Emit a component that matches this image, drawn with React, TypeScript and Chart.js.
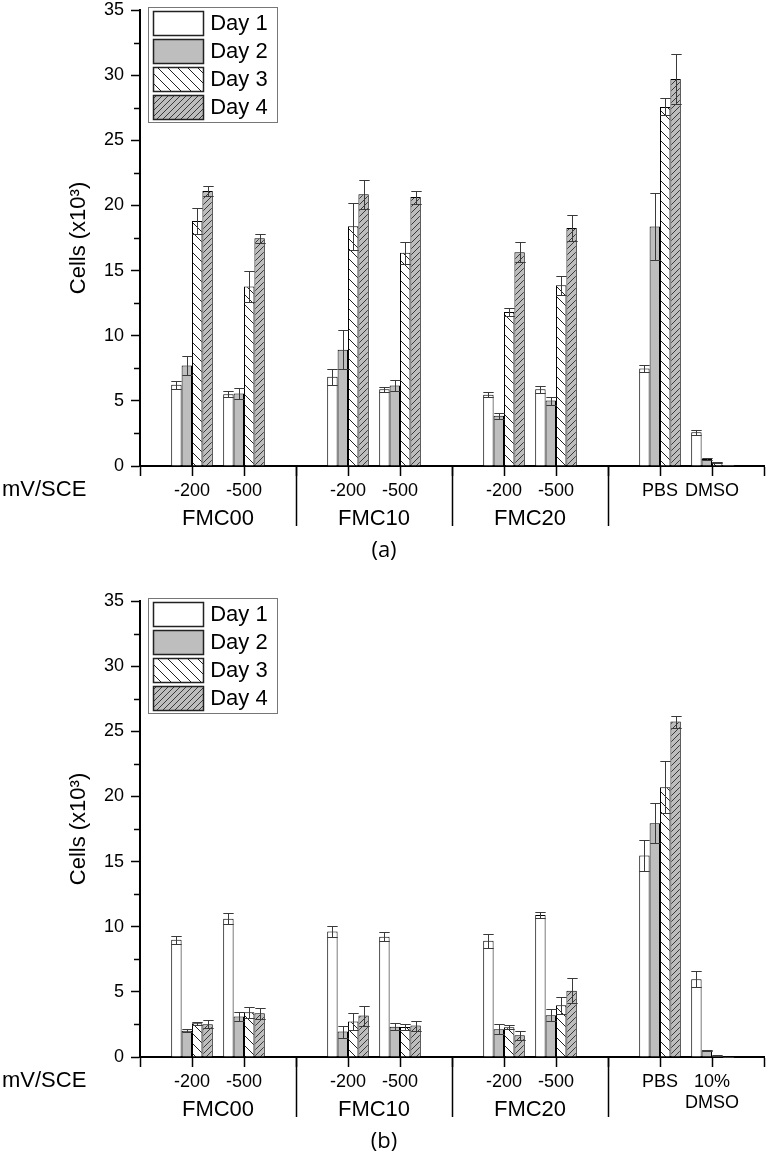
import React, { useEffect, useRef } from 'react';
import { Chart, registerables } from 'chart.js';
Chart.register(...registerables);

const FONT = '"Liberation Sans", Arial, sans-serif';

// x positions (category slots) of the eight conditions; slots 0,3,6,9,12 are empty
const slots = [1, 2, 4, 5, 7, 8, 10, 11];
const groupNames = ['FMC00', 'FMC10', 'FMC20'];
const groupCenters = [1.5, 4.5, 7.5];
const separators = [3, 6, 9];
const dayLabels = ['Day 1', 'Day 2', 'Day 3', 'Day 4'];
const tickLabelsA: (string | string[])[] = ['', '-200', '-500', '', '-200', '-500', '', '-200', '-500', '', 'PBS', 'DMSO', ''];
const tickLabelsB: (string | string[])[] = ['', '-200', '-500', '', '-200', '-500', '', '-200', '-500', '', 'PBS', ['10%', 'DMSO'], ''];
const yTicksMinor = [2.5, 7.5, 12.5, 17.5, 22.5, 27.5, 32.5];

// Panel (a) values: FMC00 -200, -500, FMC10 -200, -500, FMC20 -200, -500, PBS, DMSO
const aDay1 = [6.23, 5.51, 6.85, 5.9, 5.46, 5.9, 7.49, 2.59];
const aDay1Err = [0.3, 0.25, 0.6, 0.2, 0.2, 0.26, 0.25, 0.18];
const aDay2 = [7.72, 5.56, 8.92, 6.18, 3.85, 5.02, 18.38, 0.54];
const aDay2Err = [0.75, 0.4, 1.5, 0.45, 0.25, 0.3, 2.6, 0.05];
const aDay3 = [18.8, 13.77, 18.4, 16.36, 11.82, 13.87, 27.56, 0.28];
const aDay3Err = [1.0, 1.2, 1.8, 0.87, 0.33, 0.72, 0.65, 0.03];
const aDay4 = [21.1, 17.49, 20.85, 20.64, 16.41, 18.26, 29.7, 0.08];
const aDay4Err = [0.4, 0.35, 1.1, 0.5, 0.77, 0.97, 1.9, 0.02];

// Panel (b) values
const bDay1 = [9.0, 10.62, 9.64, 9.23, 8.92, 10.9, 15.46, 5.97];
const bDay1Err = [0.3, 0.4, 0.4, 0.33, 0.54, 0.26, 1.2, 0.6];
const bDay2 = [2.02, 3.1, 1.95, 2.33, 2.13, 3.2, 17.95, 0.51];
const bDay2Err = [0.1, 0.35, 0.46, 0.28, 0.38, 0.46, 1.54, 0.05];
const bDay3 = [2.59, 3.44, 2.72, 2.31, 2.28, 3.97, 20.7, 0.1];
const bDay3Err = [0.13, 0.43, 0.64, 0.23, 0.15, 0.67, 2.0, 0.02];
const bDay4 = [2.51, 3.36, 3.18, 2.41, 1.67, 5.08, 25.75, 0.02];
const bDay4Err = [0.3, 0.43, 0.77, 0.38, 0.36, 0.95, 0.46, 0.01];

const place = (vals: number[]) => {
  const arr: (number | null)[] = Array(13).fill(null);
  slots.forEach((s, i) => { arr[s] = vals[i]; });
  return arr;
};

function makeHatch(bg: string, line: string, size: number, dir: 'back' | 'fwd', lw: number) {
  const c = document.createElement('canvas');
  c.width = size; c.height = size;
  const g = c.getContext('2d')!;
  g.fillStyle = bg; g.fillRect(0, 0, size, size);
  g.strokeStyle = line; g.lineWidth = lw;
  g.beginPath();
  for (let k = -1; k <= 1; k++) {
    if (dir === 'back') { g.moveTo(k * size, 0); g.lineTo(k * size + size, size); }
    else { g.moveTo(k * size, size); g.lineTo(k * size + size, 0); }
  }
  g.stroke();
  return g.createPattern(c, 'repeat')!;
}

const extrasPlugin = {
  id: 'extras',
  afterDatasetsDraw(chart: any) {
    const ctx = chart.ctx;
    const y = chart.scales.y;
    ctx.save();
    ctx.strokeStyle = '#3a3a3a';
    ctx.lineWidth = 1;
    chart.data.datasets.forEach((ds: any, i: number) => {
      const meta = chart.getDatasetMeta(i);
      meta.data.forEach((el: any, j: number) => {
        const v = ds.data[j];
        const e = ds.errors[j];
        if (v == null || e == null) return;
        const x = Math.round(el.x) + 0.5;
        const w = el.width;
        const yt = Math.round(y.getPixelForValue(v + e)) + 0.5;
        const yb = Math.round(y.getPixelForValue(Math.max(0, v - e))) + 0.5;
        ctx.beginPath();
        ctx.moveTo(x, yt); ctx.lineTo(x, yb);
        ctx.moveTo(x - w / 2, yt); ctx.lineTo(x + w / 2, yt);
        ctx.moveTo(x - w / 2, yb); ctx.lineTo(x + w / 2, yb);
        ctx.stroke();
      });
    });
    ctx.restore();
  },
  afterDraw(chart: any, _args: any, opts: any) {
    const ctx = chart.ctx;
    const xs = chart.scales.x;
    const ys = chart.scales.y;
    const area = chart.chartArea;
    const axisY = xs.top;
    ctx.save();
    // minor y ticks
    ctx.strokeStyle = '#000';
    ctx.lineWidth = 1.5;
    ctx.beginPath();
    yTicksMinor.forEach((v) => {
      const py = Math.round(ys.getPixelForValue(v)) + 0.5;
      ctx.moveTo(area.left - 6, py); ctx.lineTo(area.left, py);
    });
    // long group separators
    separators.forEach((s) => {
      const px = Math.round(xs.getPixelForValue(s)) + 0.5;
      ctx.moveTo(px, axisY); ctx.lineTo(px, axisY + 60);
    });
    ctx.stroke();
    // group labels
    ctx.fillStyle = '#000';
    ctx.font = `22px ${FONT}`;
    ctx.textAlign = 'center';
    ctx.textBaseline = 'middle';
    groupNames.forEach((g, i) => {
      ctx.fillText(g, xs.getPixelForValue(groupCenters[i]), axisY + 53);
    });
    ctx.textAlign = 'left';
    ctx.fillText('mV/SCE', 2, axisY + 24);
    // panel tag
    ctx.textAlign = 'center';
    ctx.font = '22px "Open Sans", sans-serif';
    ctx.fillText(opts.tag, 384, axisY + 85);
    // legend
    const L = area.left + 7.5;
    const T = area.top - 3;
    ctx.strokeStyle = '#777';
    ctx.lineWidth = 1;
    ctx.strokeRect(Math.round(L) + 0.5, Math.round(T) + 0.5, 129, 115);
    ctx.font = `22px ${FONT}`;
    ctx.textAlign = 'left';
    chart.data.datasets.forEach((ds: any, i: number) => {
      const sx = Math.round(L + 5);
      const sy = Math.round(T + 4.4 + i * 27.8);
      ctx.fillStyle = ds.backgroundColor;
      ctx.fillRect(sx, sy, 50, 24);
      ctx.strokeStyle = '#222';
      ctx.lineWidth = 1.5;
      ctx.strokeRect(sx + 0.5, sy + 0.5, 50, 24);
      ctx.fillStyle = '#000';
      ctx.fillText(ds.label, L + 62.7, sy + 13);
    });
    ctx.restore();
  },
};

type PanelProps = {
  top: number;
  height: number;
  tickLabels: (string | string[])[];
  series: number[][];
  errors: number[][];
  tag: string;
};

function Panel({ top, height, tickLabels, series, errors, tag }: PanelProps) {
  const ref = useRef<HTMLCanvasElement>(null);
  useEffect(() => {
    const fills: any[] = [
      '#ffffff',
      '#bebebe',
      makeHatch('#ffffff', '#222222', 10, 'back', 1),
      makeHatch('#bdbdbd', '#3a3a3a', 6, 'fwd', 1),
    ];
    const chart = new Chart(ref.current!, {
      type: 'bar',
      data: {
        labels: tickLabels as any,
        datasets: series.map((s, i) => ({
          label: dayLabels[i],
          data: place(s),
          errors: place(errors[i]),
          backgroundColor: fills[i],
          borderColor: '#000',
          borderWidth: 1,
          categoryPercentage: 0.8,
          barPercentage: 1,
        })) as any,
      },
      options: {
        animation: false,
        responsive: false,
        devicePixelRatio: 1,
        layout: { padding: { left: 0, right: 3, top: 10, bottom: 0 } },
        plugins: {
          legend: { display: false },
          tooltip: { enabled: false },
          extras: { tag },
        } as any,
        scales: {
          x: {
            type: 'category',
            offset: false,
            grid: { display: true, drawOnChartArea: false, drawTicks: true, tickLength: 10, tickColor: '#000', tickWidth: 1.5, offset: false },
            border: { display: true, color: '#000', width: 2 },
            ticks: { autoSkip: false, maxRotation: 0, minRotation: 0, padding: 4, color: '#000', font: { family: FONT, size: 18 } },
            afterFit: (s: any) => { s.height = height - 466; s.paddingLeft = 0; s.paddingRight = 0; },
          },
          y: {
            min: 0,
            max: 35,
            ticks: { stepSize: 5, padding: 7, color: '#000', font: { family: FONT, size: 18 } },
            grid: { drawOnChartArea: false, drawTicks: true, tickLength: 9, tickColor: '#000', tickWidth: 1.5 },
            border: { display: true, color: '#000', width: 2 },
            title: { display: true, text: 'Cells (x10³)', color: '#000', font: { family: FONT, size: 22 }, padding: { top: 66, bottom: 0 } },
            afterFit: (s: any) => { s.width = 140; s.paddingTop = 0; s.paddingBottom = 0; },
          },
        },
      } as any,
      plugins: [extrasPlugin],
    });
    return () => chart.destroy();
  }, []);
  return (
    <canvas
      ref={ref}
      width={767}
      height={height}
      style={{ position: 'absolute', left: 0, top, width: 767, height, display: 'block' }}
    />
  );
}

export default function App() {
  return (
    <div style={{ position: 'absolute', left: 0, top: 0, width: 767, height: 1166, background: '#fff' }}>
      <Panel
        top={0}
        height={575}
        tickLabels={tickLabelsA}
        series={[aDay1, aDay2, aDay3, aDay4]}
        errors={[aDay1Err, aDay2Err, aDay3Err, aDay4Err]}
        tag="(a)"
      />
      <Panel
        top={591}
        height={575}
        tickLabels={tickLabelsB}
        series={[bDay1, bDay2, bDay3, bDay4]}
        errors={[bDay1Err, bDay2Err, bDay3Err, bDay4Err]}
        tag="(b)"
      />
    </div>
  );
}
